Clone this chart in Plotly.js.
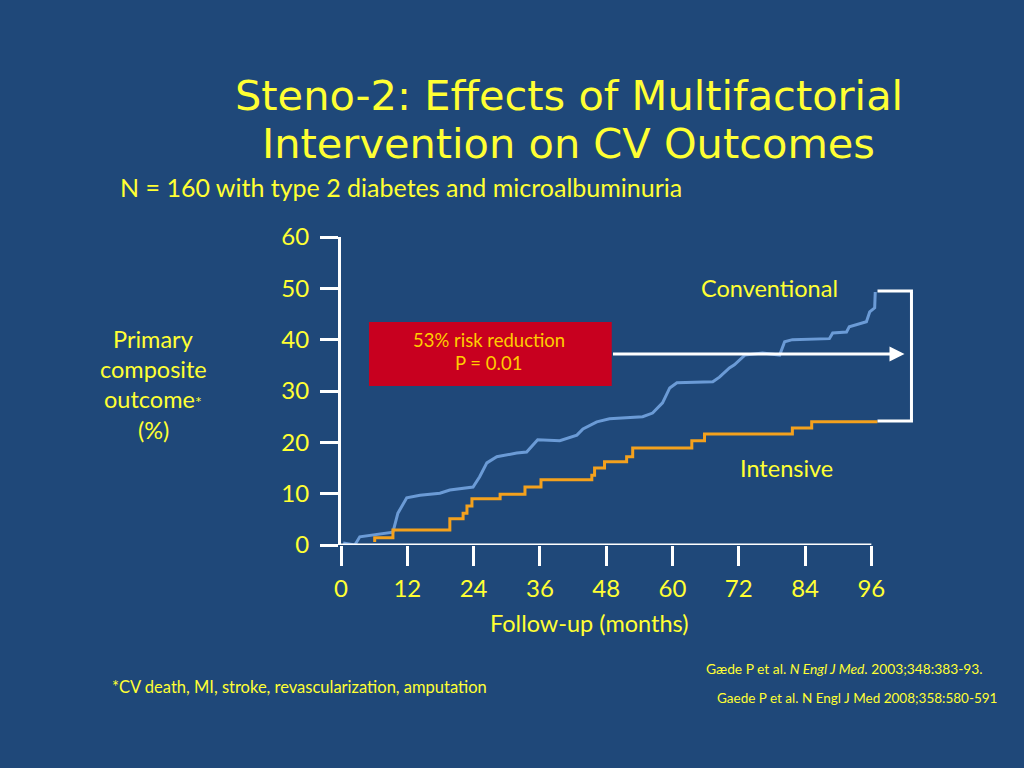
<!DOCTYPE html>
<html>
<head>
<meta charset="utf-8">
<script src="https://cdn.plot.ly/plotly-3.0.1.min.js"></script>
<style>html,body{margin:0;padding:0;background:#1f4879;}#chart{width:1024px;height:768px;}</style>
</head>
<body>
<div id="chart"></div>
<script>
// ---- data ----
const convMonths = [0.4, 2.5, 3.4, 9.4, 10.3, 11.9, 14.3, 17.9, 19.7, 23.9, 25.1, 26.4, 28.2, 31.8, 33.6, 35.6, 39.6, 42.7, 43.8, 46.3, 48.6, 52.3, 54.6, 56.4, 58.2, 59.5, 60.8, 67.3, 68.5, 70.3, 71.2, 73.1, 76.3, 79.4, 80.3, 81.7, 88.4, 89.0, 91.5, 92.0, 95.1, 95.7, 96.6, 96.7];
const convValues = [0.4, 0.0, 1.6, 2.5, 6.2, 9.2, 9.7, 10.1, 10.7, 11.3, 13.3, 16.0, 17.2, 17.9, 18.1, 20.5, 20.3, 21.4, 22.6, 24.0, 24.6, 24.8, 25.0, 25.7, 27.7, 30.6, 31.6, 31.8, 32.7, 34.5, 35.1, 37.0, 37.4, 37.0, 39.6, 40.0, 40.2, 41.3, 41.5, 42.5, 43.5, 45.4, 46.2, 49.3];
const intMonths = [6.1, 6.1, 9.4, 19.7, 22.1, 22.8, 23.7, 28.8, 33.3, 36.2, 45.4, 45.9, 47.7, 51.7, 52.8, 63.5, 65.8, 81.7, 85.2, 97.1];
const intValues = [0.6, 1.4, 2.9, 5.1, 6.2, 7.6, 9.0, 9.9, 11.3, 12.7, 13.6, 15.0, 16.2, 17.2, 18.9, 20.3, 21.6, 22.8, 24.0, 24.0];
const xTicks = [0, 12, 24, 36, 48, 60, 72, 84, 96];
const yTicks = [0, 10, 20, 30, 40, 50, 60];

// ---- layout geometry ----
const W = 1024, H = 768;
const L = 341, T = 237, PW = 537.5, PH = 308;
const B = H - T - PH, R = W - L - PW;
const px = X => (X - L) / PW;
const py = Y => (T + PH - Y) / PH;

const BG = '#1f4879';
const YEL = '#ffff33';
const BODY = 'Lato, Calibri, sans-serif';

const traces = [
  {x: convMonths, y: convValues, type: 'scatter', mode: 'lines', name: 'Conventional',
   line: {color: '#6b9bd6', width: 3}, hoverinfo: 'skip'},
  {x: intMonths, y: intValues, type: 'scatter', mode: 'lines', name: 'Intensive',
   line: {color: '#f4a11d', width: 3, shape: 'hv'}, hoverinfo: 'skip'}
];

function ann(text, X, Y, size, opts) {
  return Object.assign({text: text, xref: 'paper', yref: 'paper', x: px(X), y: py(Y),
    showarrow: false, xanchor: 'center', yanchor: 'middle',
    font: {family: BODY, size: size, color: YEL}}, opts || {});
}

const annotations = [
  ann('Steno-2: Effects of Multifactorial', 569, 96, 41.5, {font: {family: 'DejaVu Sans', size: 41.5, color: YEL}}),
  ann('Intervention on CV Outcomes', 569, 143, 41.5, {font: {family: 'DejaVu Sans', size: 41.5, color: YEL}}),
  ann('N = 160 with type 2 diabetes and microalbuminuria', 118, 187, 25, {xanchor: 'left'}),
  ann('Primary', 153, 339, 23.5),
  ann('composite', 153, 369, 23.5),
  ann('outcome<span style="font-size:16px">*</span>', 153, 399, 23.5),
  ann('(%)', 153, 430, 23.5),
  ann('Follow-up (months)', 589, 623, 23.5),
  ann('Conventional', 770, 288, 23.5),
  ann('Intensive', 787, 468, 23.5),
  ann('53% risk reduction', 489, 340, 18.5, {font: {family: BODY, size: 18.5, color: '#ffcc00'}}),
  ann('P = 0.01', 489, 363, 18.5, {font: {family: BODY, size: 18.5, color: '#ffcc00'}}),
  ann('*CV death, MI, stroke, revascularization, amputation', 110, 687, 16.5, {xanchor: 'left'}),
  ann('Gæde P et al. <i>N Engl J Med</i>. 2003;348:383-93.', 704, 668, 13.8, {xanchor: 'left'}),
  ann('Gaede P et al. N Engl J Med 2008;358:580-591', 715, 698, 13.5, {xanchor: 'left'}),
  // arrow
  {text: '', xref: 'paper', yref: 'paper', x: px(905), y: py(354), ax: -(905 - 612), ay: 0,
   showarrow: true, arrowhead: 2, arrowsize: 1, arrowwidth: 3, arrowcolor: '#ffffff', standoff: 0}
];

const shapes = [
  {type: 'rect', xref: 'paper', yref: 'paper', x0: px(369), x1: px(612), y0: py(322), y1: py(386),
   fillcolor: '#c8001f', line: {width: 0}, layer: 'below'},
  {type: 'path', xref: 'paper', yref: 'paper',
   path: 'M ' + px(878) + ' ' + py(291) + ' L ' + px(912) + ' ' + py(291) + ' L ' + px(912) + ' ' + py(421) + ' L ' + px(878) + ' ' + py(421),
   line: {color: '#ffffff', width: 3}},
  // x axis line from 0 to 96
  {type: 'line', xref: 'x', yref: 'y', x0: xTicks[0], x1: xTicks[xTicks.length - 1], y0: 0, y1: 0,
   line: {color: '#ffffff', width: 3}}
];

const layout = {
  width: W, height: H,
  margin: {l: L, r: R, t: T, b: B, pad: 0},
  paper_bgcolor: BG, plot_bgcolor: BG,
  showlegend: false,
  xaxis: {range: [0, 97.2], tickvals: xTicks, ticktext: xTicks.map(String),
          ticks: 'outside', ticklen: 20, tickwidth: 3, tickcolor: '#ffffff',
          showline: false, showgrid: false, zeroline: false, ticklabelstandoff: 2,
          tickfont: {family: BODY, size: 24, color: YEL}, fixedrange: true},
  yaxis: {range: [0, 60], tickvals: yTicks, ticktext: yTicks.map(String),
          ticks: 'outside', ticklen: 18, tickwidth: 3, tickcolor: '#ffffff',
          showline: true, linecolor: '#ffffff', linewidth: 3, showgrid: false, zeroline: false,
          ticklabelstandoff: 6,
          tickfont: {family: BODY, size: 24, color: YEL}, fixedrange: true},
  annotations: annotations,
  shapes: shapes
};

Plotly.newPlot('chart', traces, layout, {staticPlot: true, displayModeBar: false});
</script>
</body>
</html>
